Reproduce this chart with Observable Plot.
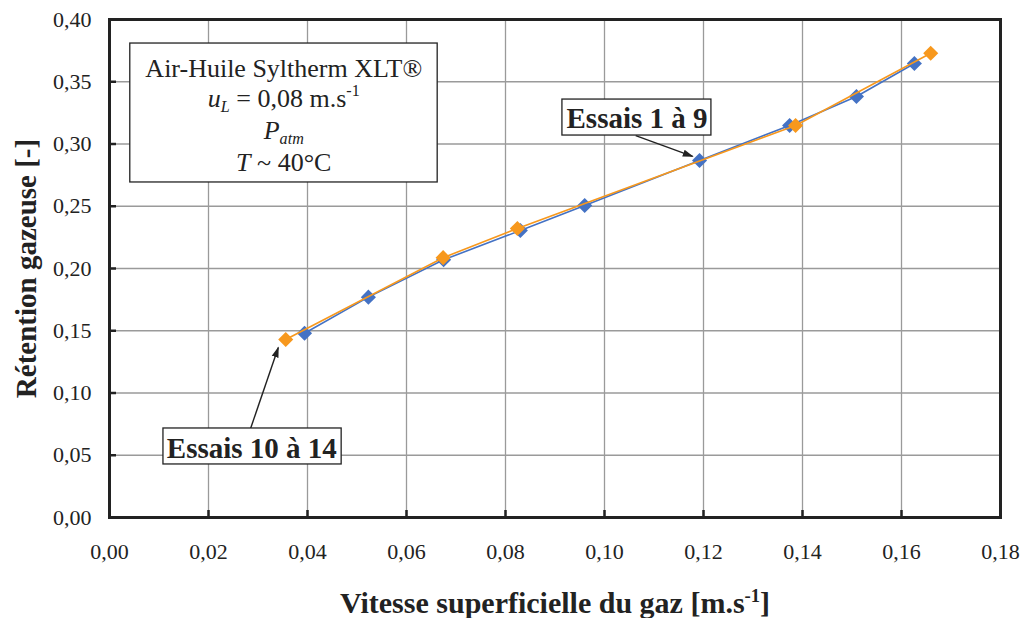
<!DOCTYPE html>
<html><head><meta charset="utf-8">
<script src="https://cdn.jsdelivr.net/npm/d3@7"></script>
<script src="https://cdn.jsdelivr.net/npm/@observablehq/plot@0.6"></script>
<style>body{margin:0;background:#fff}</style>
</head><body><div id="chart"></div>
<script>
// Data
const xTicks = [0, 0.02, 0.04, 0.06, 0.08, 0.10, 0.12, 0.14, 0.16, 0.18];
const yTicks = [0, 0.05, 0.10, 0.15, 0.20, 0.25, 0.30, 0.35, 0.40];
const essais1a9X = [0.0394, 0.0523, 0.0675, 0.0830, 0.0960, 0.1192, 0.1374, 0.1509, 0.1626];
const essais1a9Y = [0.148, 0.177, 0.207, 0.2305, 0.2506, 0.2867, 0.3149, 0.3382, 0.3647];
const essais10a14X = [0.0356, 0.0674, 0.0824, 0.1386, 0.1659];
const essais10a14Y = [0.143, 0.2087, 0.2321, 0.3149, 0.3729];

const xTitle = "Vitesse superficielle du gaz [m.s-1]";
const yTitle = "Rétention gazeuse [-]";
const infoLines = ["Air-Huile Syltherm XLT®", "uL = 0,08 m.s-1", "Patm", "T ~ 40°C"];

const blue = essais1a9X.map((x, i) => ({x, y: essais1a9Y[i]}));
const orange = essais10a14X.map((x, i) => ({x, y: essais10a14Y[i]}));

// annotation layout (data coordinates)
const infoBox = [{x1: 0.0042, x2: 0.0663, y1: 0.2691, y2: 0.3807}];
const infoText = infoLines.map((t, i) => ({t, x: 0.0352, y: [0.3603, 0.3368, 0.3105, 0.2850][i]}));
const label1 = [{t: "Essais 1 à 9", x: 0.10657, y: 0.3205, x1: 0.0915, x2: 0.1216, y1: 0.3068, y2: 0.3357}];
const label2 = [{t: "Essais 10 à 14", x: 0.02875, y: 0.0551, x1: 0.0109, x2: 0.0469, y1: 0.0426, y2: 0.0715}];
const arrows = [
  {x1: 0.1063, y1: 0.3068, x2: 0.1178, y2: 0.2900},
  {x1: 0.0285, y1: 0.0715, x2: 0.0341, y2: 0.1365}
];

const fmt = d => d.toFixed(2).replace(".", ",");
const BLUE = "#4472C4", ORANGE = "#F7981D", INK = "#222";

const RICH = {
  "uL = 0,08 m.s-1": [["u", {it: 1}], ["L", {it: 1, sub: 1}], [" = 0,08 m.s"], ["-1", {sup: 1}]],
  "Patm": [["P", {it: 1}], ["atm", {it: 1, sub: 1}]],
  "T ~ 40°C": [["T", {it: 1}], [" ~ 40°C"]],
  "Vitesse superficielle du gaz [m.s-1]": [["Vitesse superficielle du gaz [m.s"], ["-1", {sup: 1}], ["]"]]
};

const svg = Plot.plot({
  width: 1035, height: 618,
  marginLeft: 109, marginRight: 35, marginTop: 19, marginBottom: 101,
  style: {fontFamily: "'Liberation Serif', 'Times New Roman', serif", fontSize: "22px", color: INK, background: "#fff", overflow: "visible"},
  x: {domain: [0, 0.18], label: null},
  y: {domain: [0, 0.40], label: null},
  marks: [
    Plot.gridX(xTicks, {stroke: "#9a9a9a", strokeOpacity: 1, strokeWidth: 1.3}),
    Plot.gridY(yTicks, {stroke: "#9a9a9a", strokeOpacity: 1, strokeWidth: 1.3}),
    Plot.axisX(xTicks, {tickSize: -7, tickPadding: 33, tickFormat: fmt, stroke: INK, strokeWidth: 2.5, fill: INK, label: null}),
    Plot.axisY(yTicks, {tickSize: -7, tickPadding: 25, tickFormat: fmt, stroke: INK, strokeWidth: 2.5, fill: INK, label: null}),
    Plot.frame({stroke: INK, strokeWidth: 3}),
    Plot.line(blue, {x: "x", y: "y", stroke: BLUE, strokeWidth: 1.6}),
    Plot.dot(blue, {x: "x", y: "y", symbol: "diamond2", r: 6.8, fill: BLUE}),
    Plot.line(orange, {x: "x", y: "y", stroke: ORANGE, strokeWidth: 1.6}),
    Plot.dot(orange, {x: "x", y: "y", symbol: "diamond2", r: 6.8, fill: ORANGE}),
    // info box
    Plot.rect(infoBox, {x1: "x1", x2: "x2", y1: "y1", y2: "y2", fill: "#fff", stroke: INK, strokeWidth: 1.3}),
    Plot.text(infoText, {x: "x", y: "y", text: "t", fontSize: 26, fill: INK}),
    // arrows
    Plot.link(arrows, {x1: "x1", y1: "y1", x2: "x2", y2: "y2", stroke: INK, strokeWidth: 1.4, markerEnd: "arrow"}),
    // labels
    Plot.rect(label1, {x1: "x1", x2: "x2", y1: "y1", y2: "y2", fill: "#fff", stroke: INK, strokeWidth: 1.3}),
    Plot.text(label1, {x: "x", y: "y", text: "t", fontSize: 29, fontWeight: "bold", fill: INK}),
    Plot.rect(label2, {x1: "x1", x2: "x2", y1: "y1", y2: "y2", fill: "#fff", stroke: INK, strokeWidth: 1.3}),
    Plot.text(label2, {x: "x", y: "y", text: "t", fontSize: 29, fontWeight: "bold", fill: INK}),
    // axis titles
    Plot.text([xTitle], {frameAnchor: "bottom", dy: 86, text: d => d, fontSize: 30, fontWeight: "bold", fill: INK, lineAnchor: "middle"}),
    Plot.text([yTitle], {frameAnchor: "left", dx: -83, rotate: -90, text: d => d, textAnchor: "middle", fontSize: 29, fontWeight: "bold", fill: INK, lineAnchor: "middle"})
  ]
});

// rich text (italic, sub/superscripts)
d3.select(svg).selectAll("text").each(function() {
  const segs = RICH[this.textContent];
  if (!segs) return;
  const el = d3.select(this);
  el.text(null);
  let shift = 0;
  for (const [s, o = {}] of segs) {
    const target = o.sub ? 5 : o.sup ? -11 : 0;
    const ts = el.append("tspan").text(s);
    if (target !== shift) { ts.attr("dy", target - shift); shift = target; }
    if (o.it) ts.attr("font-style", "italic");
    if (o.sub || o.sup) ts.attr("font-size", "0.62em");
  }
});

// filled arrowheads
d3.select(svg).selectAll("marker")
  .attr("markerWidth", 14).attr("markerHeight", 14)
  .selectAll("path")
  .attr("d", "M-5,-1.8L0.6,0L-5,1.8Z")
  .attr("fill", INK).attr("stroke", "none");

document.getElementById("chart").append(svg);
</script>
</body></html>
